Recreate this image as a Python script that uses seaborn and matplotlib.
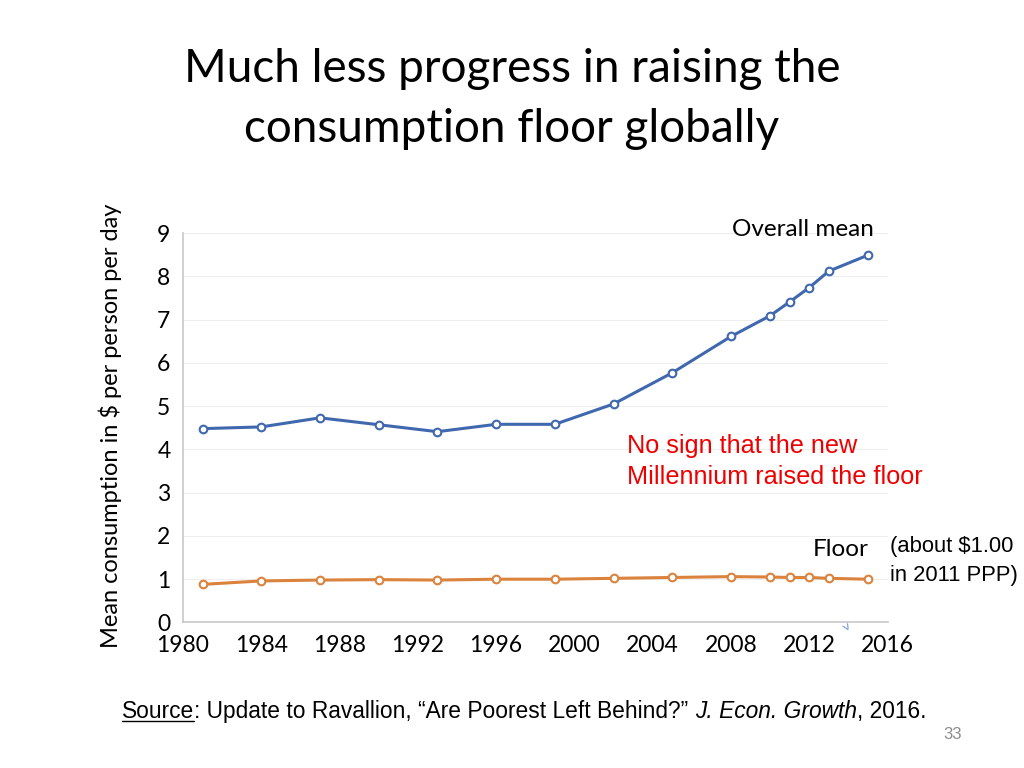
import pandas as pd
import seaborn as sns
import matplotlib.pyplot as plt
from matplotlib.lines import Line2D

# --- data ---
years = [1981, 1984, 1987, 1990, 1993, 1996, 1999, 2002, 2005, 2008, 2010, 2011, 2012, 2013, 2015]
overall_mean = [4.48, 4.52, 4.73, 4.57, 4.41, 4.58, 4.58, 5.05, 5.77, 6.61, 7.09, 7.41, 7.74, 8.12, 8.49]
floor = [0.88, 0.96, 0.98, 0.99, 0.98, 1.00, 1.00, 1.02, 1.04, 1.06, 1.05, 1.04, 1.04, 1.02, 1.00]
x_ticks = list(range(1980, 2017, 4))
y_ticks = list(range(0, 10))

BLUE = '#4068AE'
ORANGE = '#DB823C'

sns.set_theme(style='white')
plt.rcParams['font.family'] = ['Lato', 'DejaVu Sans']
plt.rcParams['text.color'] = 'black'

df = pd.DataFrame({'year': years + years,
                   'value': overall_mean + floor,
                   'series': ['Overall mean'] * len(years) + ['Floor'] * len(years)})

fig = plt.figure(figsize=(10.24, 7.68), dpi=100)
ax = fig.add_axes([0.1787, 0.1895, 0.688, 0.507])

sns.lineplot(data=df, x='year', y='value', hue='series', palette=[BLUE, ORANGE],
             marker='o', markersize=5.5, markerfacecolor='white', markeredgewidth=1.5,
             linewidth=2.2, legend=False, ax=ax)
for line, c in zip(ax.lines, [BLUE, ORANGE]):
    line.set_markeredgecolor(c)

ax.set_xlim(1980, 2016)
ax.set_ylim(0, 9)
ax.set_xticks(x_ticks)
ax.set_yticks(y_ticks)
ax.tick_params(axis='both', labelsize=16.5, colors='black', length=0)
ax.tick_params(axis='x', pad=9)
ax.tick_params(axis='y', pad=9)
ax.grid(axis='y', color='#eeeeee', linewidth=0.8)
ax.set_axisbelow(True)
for s in ['top', 'right']:
    ax.spines[s].set_visible(False)
for s in ['left', 'bottom']:
    ax.spines[s].set_color('#c8c8c8')
    ax.spines[s].set_linewidth(1.2)
ax.set_xlabel('')
ax.set_ylabel('Mean consumption in $ per person per day', fontsize=17, color='black')
ax.yaxis.set_label_coords(-0.086, 0.504)

# series labels
fig.text(0.853, 0.701, 'Overall mean', fontsize=17.5, ha='right', va='center')
fig.text(0.848, 0.284, 'Floor', fontsize=17.5, ha='right', va='center')
fig.text(0.869, 0.288, '(about $1.00', fontsize=15.8, ha='left', va='center', family='Liberation Sans')
fig.text(0.869, 0.250, 'in 2011 PPP)', fontsize=15.8, ha='left', va='center', family='Liberation Sans')

# annotation
fig.text(0.612, 0.419, 'No sign that the new', fontsize=18.2, color='#ee0000', ha='left', va='center',
         family='Liberation Sans')
fig.text(0.612, 0.379, 'Millennium raised the floor', fontsize=18.2, color='#ee0000', ha='left', va='center',
         family='Liberation Sans')

# small stray mark near the x axis
fig.text(0.824, 0.183, '>', fontsize=9, color='#5b8ac8', rotation=-60, ha='center', va='center',
         family='Liberation Sans')

# title
fig.text(0.5, 0.910, 'Much less progress in raising the', fontsize=33, ha='center', va='center')
fig.text(0.5, 0.832, 'consumption floor globally', fontsize=33, ha='center', va='center')

# source line, built piece by piece
parts = [('Source', 'normal'), (': Update to Ravallion, \u201cAre Poorest Left Behind?\u201d ', 'normal'),
         ('J. Econ. Growth', 'italic'), (', 2016.', 'normal')]
fig.canvas.draw()
renderer = fig.canvas.get_renderer()
x = 0.119
y = 0.073
for i, (txt, style) in enumerate(parts):
    t = fig.text(x, y, txt, fontsize=16.4, style=style, family='Liberation Sans', ha='left', va='center')
    bb = t.get_window_extent(renderer).transformed(fig.transFigure.inverted())
    if i == 0:
        fig.add_artist(Line2D([bb.x0, bb.x1], [bb.y0 + 0.003, bb.y0 + 0.003],
                              transform=fig.transFigure, color='black', linewidth=1))
    x = bb.x1

fig.text(0.930, 0.044, '33', fontsize=12, color='#8c8c8c', ha='center', va='center',
         family='Liberation Sans')

plt.savefig('out.png', dpi=100)
